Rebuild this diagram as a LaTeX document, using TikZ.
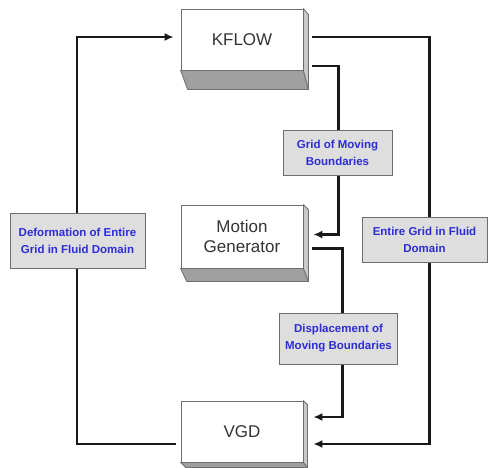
\documentclass[tikz,border=0pt]{standalone}
\usepackage{fontspec}
\setmainfont{Liberation Sans}
\usetikzlibrary{arrows.meta,calc}
\definecolor{lblblue}{RGB}{45,45,215}
\definecolor{lblfill}{RGB}{222,222,222}
\definecolor{edgegray}{RGB}{110,110,110}
\definecolor{bottomgray}{RGB}{160,160,160}
\definecolor{sidegray}{RGB}{200,200,200}
\begin{document}
\begin{tikzpicture}[x=1pt,y=-1pt,
  mainbox/.style={draw=edgegray, fill=white, line width=0.8pt, minimum width=122pt, inner sep=0pt,
    align=center, text=black!80, font=\fontsize{17}{20}\selectfont},
  face/.style={draw=edgegray, line width=0.8pt, line join=round},
  lbl/.style={draw=edgegray, fill=lblfill, line width=0.8pt, inner sep=0pt, align=center,
    text=lblblue, font=\bfseries\fontsize{11.5}{17}\selectfont},
  conn/.style={line width=2.2pt, black!90},
  arr/.style={conn, -{Latex[length=9pt,width=8pt]}}]
\useasboundingbox (0,0) rectangle (493,467);

% main boxes (front faces)
\node[mainbox, minimum height=61pt] (kflow) at (242,39.5) {KFLOW};
\node[mainbox, minimum height=63pt] (motion) at (242,236.5) {Motion\\Generator};
\node[mainbox, minimum height=61pt] (vgd) at (242,431.5) {VGD};

% 3D faces
\draw[face, fill=bottomgray] (kflow.south west) -- (kflow.south east) -- ++(5,19) -- ($(kflow.south west)+(7,19)$) -- cycle;
\draw[face, fill=sidegray] (kflow.north east) -- ++(5,6) -- ($(kflow.south east)+(5,19)$) -- (kflow.south east) -- cycle;
\draw[face, fill=bottomgray] (motion.south west) -- (motion.south east) -- ++(5,13) -- ($(motion.south west)+(6,13)$) -- cycle;
\draw[face, fill=sidegray] (motion.north east) -- ++(5,5) -- ($(motion.south east)+(5,13)$) -- (motion.south east) -- cycle;
\draw[face, fill=bottomgray] (vgd.south west) -- (vgd.south east) -- ++(4,5) -- ($(vgd.south west)+(5,5)$) -- cycle;
\draw[face, fill=sidegray] (vgd.north east) -- ++(4,4) -- ($(vgd.south east)+(4,5)$) -- (vgd.south east) -- cycle;

% connectors
\draw[arr] ($(vgd.west)+(-5,12.5)$) -- ++(-99,0) |- ($(kflow.west)+(-7,-2.5)$);
\draw[arr] ($(kflow.east)+(9,-2.5)$) -- ++(117,0) |- ($(vgd.east)+(10,12.5)$);
\draw[arr] ($(kflow.east)+(9,26.5)$) -- ++(26,0) |- ($(motion.east)+(10,-2)$);
\draw[arr] ($(motion.east)+(9,12)$) -- ++(30,0) |- ($(vgd.east)+(10,-14.5)$);

% labels
\node[lbl, minimum width=135pt, minimum height=55pt] (deform) at (77.5,240.5) {Deformation of Entire\\Grid in Fluid Domain};
\node[lbl, minimum width=125pt, minimum height=45pt] (entire) at (424.5,239.5) {Entire Grid in Fluid\\Domain};
\node[lbl, minimum width=109pt, minimum height=45pt] (gridmov) at (337.5,152.5) {Grid of Moving\\Boundaries};
\node[lbl, minimum width=118pt, minimum height=51pt] (displ) at (338.5,338.5) {Displacement of\\Moving Boundaries};
\end{tikzpicture}
\end{document}
